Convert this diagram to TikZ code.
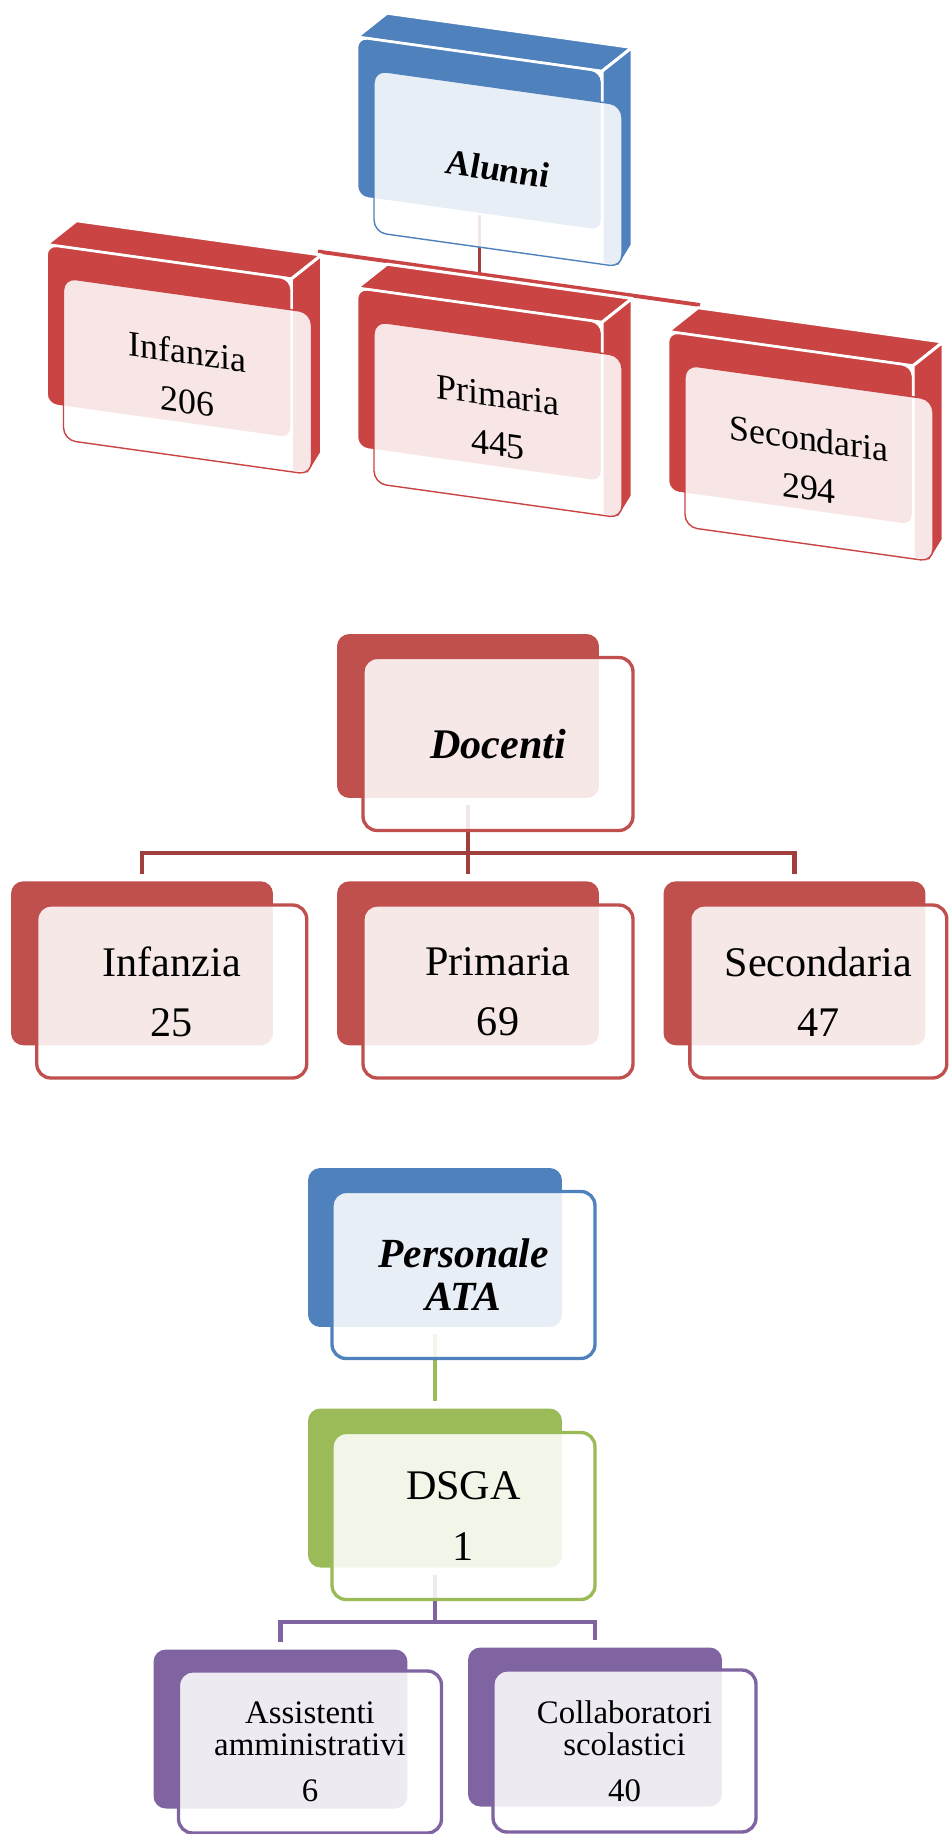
\documentclass[tikz,border=0pt]{standalone}
\usepackage{fontspec}
\setmainfont{Liberation Serif}
\usetikzlibrary{backgrounds}

\definecolor{blu}{HTML}{4F81BD}
\definecolor{rosso}{HTML}{C0504D}
\definecolor{rossovivo}{HTML}{C94443}
\definecolor{rossoscuro}{HTML}{A0403E}
\definecolor{verde}{HTML}{9BBB59}
\definecolor{viola}{HTML}{8064A2}

\begin{document}
\begin{tikzpicture}[x=0.02cm, y=-0.02cm]
\tikzstyle{faccia}=[draw=white, line width=1.7pt, line join=round]
\tikzstyle{tback}=[draw=white, line width=1.4pt, rounded corners=6pt, inner sep=0pt, minimum width=4.9cm, minimum height=3.2cm, transform shape]
\tikzstyle{tfront}=[draw, line width=0.8pt, fill=white, fill opacity=0.87, text opacity=1, rounded corners=7pt, inner sep=0pt, minimum width=4.96cm, minimum height=3.24cm, align=center, transform shape, font=\fontsize{20.4}{28}\selectfont]
\tikzstyle{dback}=[rounded corners=7pt, inner sep=0pt, minimum width=5.24cm, minimum height=3.28cm]
\tikzstyle{dfront}=[draw, line width=1.9pt, fill=white, fill opacity=0.87, text opacity=1, rounded corners=8pt, inner sep=0pt, minimum width=5.4cm, minimum height=3.46cm, align=center, font=\fontsize{24}{34}\selectfont]
\tikzstyle{aback}=[dback, minimum width=5.08cm, minimum height=3.18cm]
\tikzstyle{afront}=[dfront, minimum width=5.26cm, minimum height=3.34cm, font=\fontsize{24}{34.6}\selectfont]
\tikzstyle{linea}=[line width=2.3pt, shorten <=4pt, shorten >=4pt]

    \useasboundingbox (0,0) rectangle (949,1834);
    \begin{scope}[on background layer]
        \fill[white] (0,0) rectangle (949,1834);
    \end{scope}

    % Alunni
    \begin{scope}[yslant=-0.14]
        \filldraw[faccia, fill=blu] (357,-13) -- (387,-41) -- (632,-41) -- (602,-13) -- cycle;
        \filldraw[faccia, fill=blu] (602,-13) -- (632,-41) -- (632,157) -- (619,180) -- (602,180) -- cycle;
        \node[tback, fill=blu] (al) at (479.5,67) {};
        \node[tfront, draw=blu] (al-f) at (498,99) {\textbf{\textit{Alunni}}};

        \filldraw[faccia, fill=rossovivo] (46.5,238) -- (76.5,210) -- (321.5,210) -- (291.5,238) -- cycle;
        \filldraw[faccia, fill=rossovivo] (291.5,238) -- (321.5,210) -- (321.5,408) -- (308.5,431) -- (291.5,431) -- cycle;
        \node[tback, fill=rossovivo] (ainf) at (169,318) {};
        \node[tfront, draw=rossovivo] (ainf-f) at (187.5,350) {Infanzia\\206};

        \filldraw[faccia, fill=rossovivo] (357,238) -- (387,210) -- (632,210) -- (602,238) -- cycle;
        \filldraw[faccia, fill=rossovivo] (602,238) -- (632,210) -- (632,408) -- (619,431) -- (602,431) -- cycle;
        \node[tback, fill=rossovivo] (apri) at (479.5,318) {};
        \node[tfront, draw=rossovivo] (apri-f) at (498,350) {Primaria\\445};

        \filldraw[faccia, fill=rossovivo] (668,238) -- (698,210) -- (943,210) -- (913,238) -- cycle;
        \filldraw[faccia, fill=rossovivo] (913,238) -- (943,210) -- (943,408) -- (930,431) -- (913,431) -- cycle;
        \node[tback, fill=rossovivo] (asec) at (790.5,318) {};
        \node[tfront, draw=rossovivo] (asec-f) at (809,350) {Secondaria\\294};

        \coordinate (albar) at (479.5,207);
        \coordinate (infbar) at (318,207);
        \coordinate (secbar) at (700,207);
    \end{scope}

    % Docenti
    \node[dback, fill=rosso] (doc) at (468,716) {};
    \node[dfront, draw=rosso, font=\bfseries\itshape\fontsize{24}{34}\selectfont] (doc-f) at (498,744) {Docenti};

    \node[dback, fill=rosso] (inf) at (142,963.3) {};
    \node[dfront, draw=rosso] (inf-f) at (171.75,991.5) {Infanzia\\25};
    \node[dback, fill=rosso] (pri) at (468,963.3) {};
    \node[dfront, draw=rosso] (pri-f) at (498,991.5) {Primaria\\69};
    \node[dback, fill=rosso] (sec) at (794.5,963.3) {};
    \node[dfront, draw=rosso, minimum width=5.14cm] (sec-f) at (818.3,991.5) {Secondaria\\47};

    % Personale ATA
    \node[aback, fill=blu] (ata) at (435,1247.5) {};
    \node[afront, draw=blu, font=\bfseries\itshape\fontsize{23.6}{24.5}\selectfont] (ata-f) at (463.5,1275) {Personale\\ATA};

    \node[aback, fill=verde] (dsga) at (435,1488) {};
    \node[afront, draw=verde] (dsga-f) at (463.5,1516) {DSGA\\1};

    \node[aback, fill=viola] (ass) at (280.5,1729) {};
    \node[afront, draw=viola, minimum height=3.24cm, font=\fontsize{18.7}{18.2}\selectfont] (ass-f) at (310,1752) {Assistenti\\amministrativi\\[8pt]6};
    \node[aback, fill=viola] (col) at (595,1727) {};
    \node[afront, draw=viola, minimum height=3.24cm, font=\fontsize{18.7}{18.2}\selectfont] (col-f) at (624.5,1751) {Collaboratori\\scolastici\\[8pt]40};

    \begin{scope}[on background layer]
        \draw[rossoscuro, line width=2.2pt] (al.south) -- (albar);
        \draw[rossovivo, line width=2.2pt] (infbar) -- (secbar);

        \draw[linea, rossoscuro] (doc.south) -- ++(0,55) -| (inf.north);
        \draw[linea, rossoscuro] (doc.south) -- ++(0,55) -| (pri.north);
        \draw[linea, rossoscuro] (doc.south) -- ++(0,55) -| (sec.north);

        \draw[linea, verde] (ata.south) -- (dsga.north);
        \draw[linea, viola] (dsga.south) -- ++(0,54) -| (ass.north);
        \draw[linea, viola] (dsga.south) -- ++(0,54) -| (col.north);
    \end{scope}
\end{tikzpicture}
\end{document}
